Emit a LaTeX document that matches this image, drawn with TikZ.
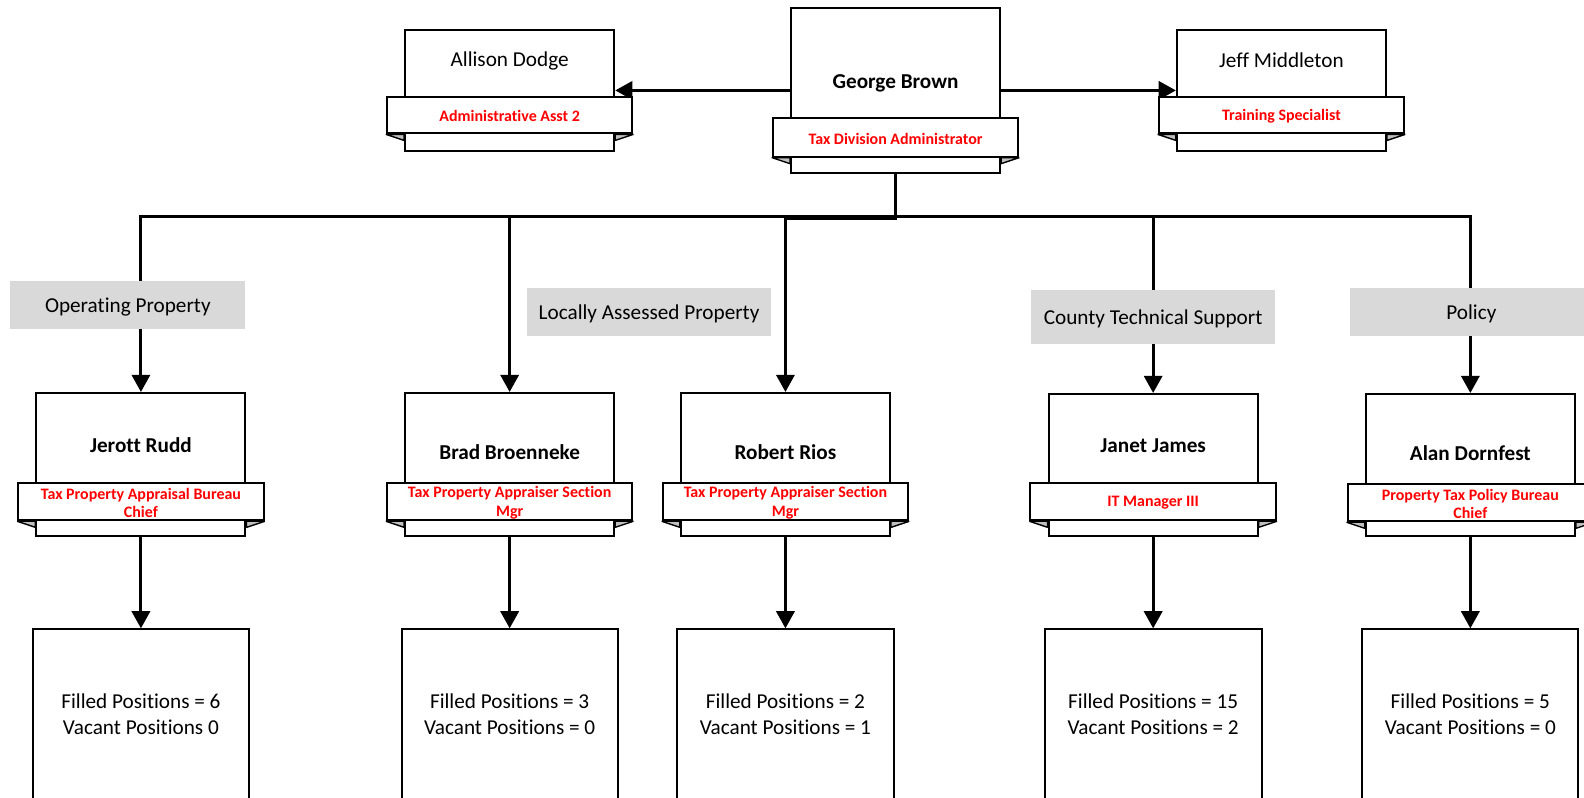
\documentclass[tikz,border=0pt]{standalone}
\usepackage{fontspec}
\setmainfont{Carlito}[Ligatures=NoCommon]
\usetikzlibrary{arrows.meta,fit,backgrounds}

\definecolor{labelgray}{HTML}{D9D9D9}
\definecolor{foldgray}{HTML}{BFBFBF}
\definecolor{titlered}{HTML}{FF0000}

\tikzset{
  cardbox/.style={draw=black, fill=white, line width=1pt, inner sep=0pt},
  ribbonbox/.style={draw=black, fill=white, line width=1pt, inner sep=0pt},
  foldtri/.style={fill=foldgray, draw=black, line width=0.7pt, line join=bevel},
  nametext/.style={inner sep=0pt, font=\fontsize{10.5}{12.6}\selectfont},
  titletext/.style={inner sep=0pt, align=center, text=titlered, yshift=-0.6pt,
    font=\fontsize{7.9}{9}\selectfont\bfseries},
  countbox/.style={draw=black, fill=white, line width=1pt, inner sep=0pt},
  counttext/.style={inner sep=0pt, align=center,
    font=\fontsize{10.5}{13}\selectfont},
  grouplabel/.style={fill=labelgray, inner sep=0pt, text height=0.95em, text depth=0.2em,
    font=\fontsize{10.5}{12.6}\selectfont},
  conn/.style={line width=1.5pt, draw=black},
  tip/.style={-{Triangle[width=9pt,length=8.5pt]}},
}

% person card: #1 id, #2 centre x, #3 box top, #4 box bottom,
% #5 ribbon top, #6 ribbon bottom, #7 name y, #8 name, #9 job title
\newcommand{\orgcard}[9]{%
  \node[cardbox, fit={({#2-103.5},#3) ({#2+103.5},#4)}] (#1) {};
  \node[ribbonbox, fit={({#2-121.5},#5) ({#2+121.5},#6)}] (#1-r) {};
  \filldraw[foldtri] (#1-r.south west) -- (#1.west |- #1-r.south)
    -- ([yshift=-3pt]#1.west |- #1-r.south) -- cycle;
  \filldraw[foldtri] (#1-r.south east) -- (#1.east |- #1-r.south)
    -- ([yshift=-3pt]#1.east |- #1-r.south) -- cycle;
  \node[nametext] (#1-n) at (#2,#7) {#8};
  \node[titletext] (#1-t) at (#1-r.center) {#9};
}

% position count box: #1 id, #2 centre x, #3 half width, #4 text
\newcommand{\countcard}[4]{%
  \node[countbox, fit={({#2-#3},623) ({#2+#3},830)}] (#1) {};
  \node[counttext] (#1-x) at (#2,707) {#4};
}

\begin{document}
\begin{tikzpicture}[x=0.5pt, y=-0.5pt]
  \useasboundingbox (0,0) rectangle (1568,789);
  \begin{scope}[on background layer]
    \fill[white] (0,0) rectangle (1568,789);
  \end{scope}
  \clip (0,0) rectangle (1568,789);

  % top row
  \orgcard{george}{886.5}{8}{171}{117}{155}{82}{\bfseries George Brown}{Tax Division Administrator}
  \orgcard{allison}{504.5}{30}{149}{96}{132}{60}{Allison Dodge}{Administrative Asst 2}
  \orgcard{jeff}{1268.5}{30}{149}{96}{132}{60}{Jeff Middleton}{Training Specialist}

  % managers
  \orgcard{jerott}{139.5}{389}{531}{478}{515}{441}{\bfseries Jerott Rudd}{Tax Property Appraisal Bureau\\Chief}
  \orgcard{brad}{504.5}{389}{531}{478}{515}{448}{\bfseries Brad Broenneke}{Tax Property Appraiser Section\\Mgr}
  \orgcard{robert}{777.5}{389}{531}{478}{515}{448}{\bfseries Robert Rios}{Tax Property Appraiser Section\\Mgr}
  \orgcard{janet}{1141.5}{390}{531}{478}{515}{441}{\bfseries Janet James}{IT Manager III}
  \orgcard{alan}{1455.5}{390}{531}{479}{516}{449}{\bfseries Alan Dornfest}{Property Tax Policy Bureau\\Chief}

  % position counts
  \countcard{jerott-c}{139.5}{106.5}{Filled Positions = 6\\Vacant Positions 0}
  \countcard{brad-c}{504.5}{107}{Filled Positions = 3\\Vacant Positions = 0}
  \countcard{robert-c}{777.5}{107.5}{Filled Positions = 2\\Vacant Positions = 1}
  \countcard{janet-c}{1141.5}{107.5}{Filled Positions = 15\\Vacant Positions = 2}
  \countcard{alan-c}{1455.5}{107}{Filled Positions = 5\\Vacant Positions = 0}

  % reporting lines
  \coordinate (bus) at (0,214.5);
  \coordinate (busb) at (0,216.5);
  \begin{scope}[on background layer]
    \draw[conn,tip] (george.west) -- (allison.east);
    \draw[conn,tip] (george.east) -- (jeff.west);
    \foreach \p in {jerott,brad,janet,alan}
      \draw[conn,tip] (george.south) -- (george.south |- bus) -| (\p.north);
    \draw[conn,tip] (george.south) -- (george.south |- busb) -| (robert.north);
    \foreach \p in {jerott,brad,robert,janet,alan}
      \draw[conn,tip] (\p.south) -- (\p-c.north);
  \end{scope}

  % section labels
  \node[grouplabel, minimum width=116.5pt, minimum height=24pt] (lblop) at (126.5,302) {Operating Property};
  \node[grouplabel, minimum width=120.5pt, minimum height=24pt] (lblla) at (642.5,309) {Locally Assessed Property};
  \node[grouplabel, minimum width=120.5pt, minimum height=27pt] (lblct) at (1141.5,314) {County Technical Support};
  \node[grouplabel, minimum width=120.5pt, minimum height=24pt] (lblpo) at (1456.5,309) {Policy};
\end{tikzpicture}
\end{document}
